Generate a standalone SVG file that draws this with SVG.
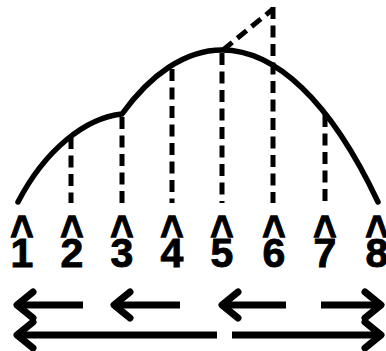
<svg xmlns="http://www.w3.org/2000/svg" width="386" height="351" viewBox="0 0 386 351">
<style>
.curve{fill:none;stroke:#000;stroke-width:5.5;stroke-linecap:round}
.dash{fill:none;stroke:#000;stroke-width:5;stroke-dasharray:12 6.5}
.shaft{fill:none;stroke:#000;stroke-width:7;stroke-linecap:butt}
.head{fill:none;stroke:#000;stroke-width:7;stroke-linecap:round;stroke-linejoin:round}
.num{font-family:"Liberation Sans",Arial,sans-serif;font-weight:bold;font-size:41px;text-anchor:middle;fill:#000;stroke:#000;stroke-width:0.9}
.car{font-family:"Liberation Sans",Arial,sans-serif;font-weight:bold;font-size:40px;text-anchor:middle;fill:#000;stroke:#000;stroke-width:1.1}
</style>
<rect width="386" height="351" fill="#fff"/>
<g id="curve">
<path class="curve" d="M18,202 C45,150 85,118 122,114 C150,75 185,50 222,50 C275,50 330,100 378,202"/>
</g>
<g id="dashed-lines">
<path class="dash" d="M71,137 V203"/>
<path class="dash" d="M122,117 V203"/>
<path class="dash" d="M172,69 V203"/>
<path class="dash" d="M222,53 V203"/>
<path class="dash" d="M223,50 L273,9"/>
<path class="dash" d="M273,7 V203"/>
<path class="dash" d="M325,115 V203"/>
</g>
<g id="labels">
<g id="label-1"><text class="car" transform="translate(22,233) scale(1,1.2)" y="13">^</text><text class="num" x="22" y="267">1</text></g>
<g id="label-2"><text class="car" transform="translate(72,233) scale(1,1.2)" y="13">^</text><text class="num" x="72" y="267">2</text></g>
<g id="label-3"><text class="car" transform="translate(122,233) scale(1,1.2)" y="13">^</text><text class="num" x="122" y="267">3</text></g>
<g id="label-4"><text class="car" transform="translate(172,233) scale(1,1.2)" y="13">^</text><text class="num" x="172" y="267">4</text></g>
<g id="label-5"><text class="car" transform="translate(222,233) scale(1,1.2)" y="13">^</text><text class="num" x="222" y="267">5</text></g>
<g id="label-6"><text class="car" transform="translate(274,233) scale(1,1.2)" y="13">^</text><text class="num" x="274" y="267">6</text></g>
<g id="label-7"><text class="car" transform="translate(325,233) scale(1,1.2)" y="13">^</text><text class="num" x="325" y="267">7</text></g>
<g id="label-8"><text class="car" transform="translate(377,233) scale(1,1.2)" y="13">^</text><text class="num" x="377" y="267">8</text></g>
</g>
<g id="connectors">
<path class="shaft" d="M83,305 H18"/><path class="head" d="M33,292 L17,305 L33,318"/>
<path class="shaft" d="M180,305 H115"/><path class="head" d="M130,292 L114,305 L130,318"/>
<path class="shaft" d="M286,305 H223"/><path class="head" d="M238,292 L222,305 L238,318"/>
<path class="shaft" d="M321,305 H380"/><path class="head" d="M365,292 L381,305 L365,318"/>
<path class="shaft" d="M217,335 H18"/><path class="head" d="M33,322 L17,335 L33,348"/>
<path class="shaft" d="M232,335 H380"/><path class="head" d="M365,322 L381,335 L365,348"/>
</g>
</svg>
